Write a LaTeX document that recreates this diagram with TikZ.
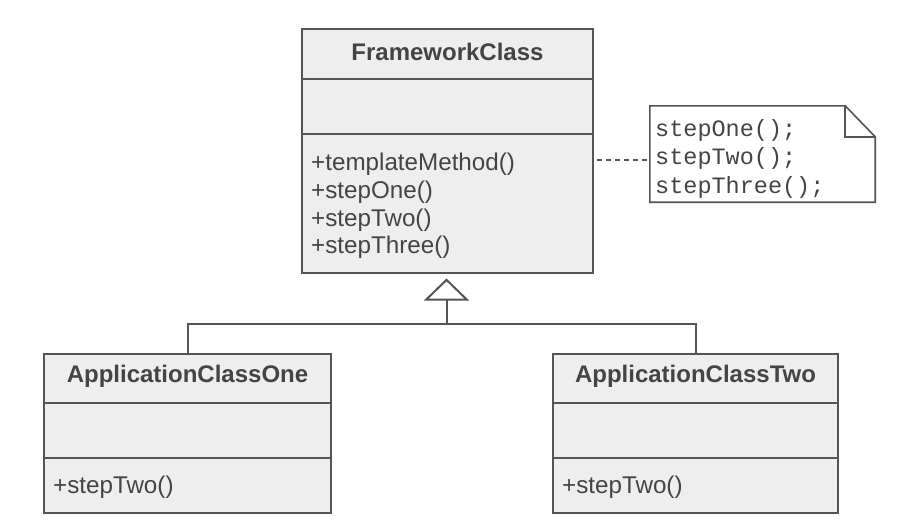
\documentclass[tikz,border=0pt]{standalone}
\usepackage{fontspec}
\setmainfont{Liberation Sans}
\setmonofont{Liberation Mono}
\usetikzlibrary{arrows.meta,calc}
\definecolor{ln}{HTML}{555555}
\definecolor{tx}{HTML}{444444}
\definecolor{fl}{HTML}{EEEEEE}
\tikzset{
  classbox/.style={draw=ln, fill=fl, line width=2pt, inner sep=0pt},
  divider/.style={draw=ln, line width=2pt},
  titletext/.style={text=tx, inner sep=0pt, font=\fontsize{24}{28}\bfseries\selectfont},
  methodtext/.style={text=tx, inner sep=0pt, anchor=base west, font=\fontsize{24.2}{28}\selectfont},
  notetext/.style={text=tx, inner sep=0pt, anchor=base west, font=\fontsize{23.5}{28}\ttfamily\selectfont},
  conn/.style={draw=ln, line width=2pt},
}
\begin{document}
\begin{tikzpicture}[x=1pt,y=-1pt]
\useasboundingbox[fill=white] (0,0) rectangle (922,522);

% FrameworkClass
\node[classbox, minimum width=291pt, minimum height=244pt] (fw) at (447.5,151) {};
\draw[divider] (fw.west |- 0,79) coordinate (fwd1l) -- (fw.east |- 0,79) coordinate (fwd1r);
\draw[divider] (fw.west |- 0,134) coordinate (fwd2l) -- (fw.east |- 0,134) coordinate (fwd2r);
\node[titletext] (fwt) at (447.5,52) {FrameworkClass};
\node[methodtext] (fwm1) at (311,170) {+templateMethod()};
\node[methodtext] (fwm2) at (311,198) {+stepOne()};
\node[methodtext] (fwm3) at (311,226) {+stepTwo()};
\node[methodtext] (fwm4) at (311,253.5) {+stepThree()};

% ApplicationClassOne
\node[classbox, minimum width=287pt, minimum height=159pt] (one) at (187.5,433.5) {};
\draw[divider] (one.west |- 0,403) -- (one.east |- 0,403);
\draw[divider] (one.west |- 0,458) -- (one.east |- 0,458);
\node[titletext] (onet) at (187.5,376) {ApplicationClassOne};
\node[methodtext] (onem1) at (53,493.5) {+stepTwo()};

% ApplicationClassTwo
\node[classbox, minimum width=285pt, minimum height=159pt] (two) at (695.5,433.5) {};
\draw[divider] (two.west |- 0,403) -- (two.east |- 0,403);
\draw[divider] (two.west |- 0,458) -- (two.east |- 0,458);
\node[titletext] (twot) at (695.5,376) {ApplicationClassTwo};
\node[methodtext] (twom1) at (562,493.5) {+stepTwo()};

% Note
\node[minimum width=225pt, minimum height=96pt, inner sep=0pt] (note) at (762.5,154) {};
\draw[conn, line width=1.6pt, fill=white] (note.south west) -- (note.north west) -- ($(note.north east)+(-30,0)$) coordinate (fold1) -- ($(note.north east)+(0,31)$) coordinate (fold2) -- (note.south east) -- cycle;
\draw[conn, line width=1.6pt] (fold1) -- (fold1 |- fold2) -- (fold2);
\node[notetext] (n1) at (655,136) {stepOne();};
\node[notetext] (n2) at (655,164.5) {stepTwo();};
\node[notetext] (n3) at (655,193) {stepThree();};

% dashed note link
\coordinate (dl) at (fw.east |- 0,160);
\coordinate (dr) at (note.west |- 0,160);
\draw[conn, line width=1.6pt, dash pattern=on 5pt off 4pt] ($(dl)+(3,0)$) -- (dr);

% generalization
\coordinate (apex) at ($(fw.south)+(-1,4.5)$);
\coordinate (jn) at (446.5,323.5);
\draw[conn, -{Triangle[open, length=22pt, width=45pt, line width=2pt, fill=white]}] (jn) -- (apex);
\draw[conn] (one.north) |- (jn) -| (two.north);
\end{tikzpicture}
\end{document}
